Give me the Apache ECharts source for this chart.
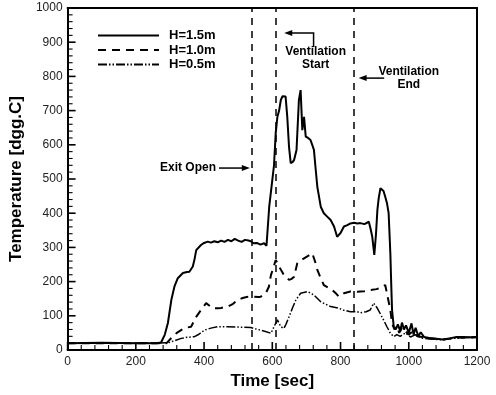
<!DOCTYPE html>
<html><head><meta charset="utf-8">
<script src="https://cdn.jsdelivr.net/npm/echarts@6/dist/echarts.min.js"></script>
<style>html,body{margin:0;padding:0;background:#fff}#c{width:496px;height:395px}</style>
</head><body><div id="c"></div>
<script>
// H=1.5m  [time, temperature]
const h15 = [[0,20],[100,21],[200,20],[260,20],[274,22],[285,45],[294,79],[304,146],[313,185],[323,210],[338,225],[350,228],[357,229],[367,244],[372,265],[377,292],[391,307],[400,313],[411,317],[420,314],[430,318],[440,315],[450,320],[460,316],[470,322],[480,318],[490,325],[500,320],[510,316],[520,322],[530,320],[537,318],[545,312],[555,313],[565,308],[576,312],[583,305],[586,302],[591,419],[600,497],[605,540],[610,634],[615,682],[620,700],[625,731],[630,742],[634,746],[639,741],[644,680],[649,594],[654,546],[660,550],[664,556],[671,585],[678,731],[683,760],[688,643],[693,682],[698,624],[705,620],[712,614],[717,600],[722,585],[727,530],[732,477],[742,419],[751,400],[761,390],[771,380],[781,361],[790,331],[795,328],[800,342],[810,361],[820,365],[829,370],[840,372],[849,370],[858,371],[870,368],[883,375],[889,350],[893,331],[899,278],[904,340],[908,409],[912,445],[917,473],[922,478],[926,465],[931,448],[936,430],[941,400],[944,330],[946,283],[949,180],[951,117],[956,68],[962,60],[968,75],[975,55],[980,80],[986,60],[992,72],[1000,50],[1008,78],[1014,45],[1020,65],[1028,40],[1035,52],[1045,38],[1060,35],[1080,33],[1100,31],[1120,34],[1140,38],[1160,38],[1180,37],[1200,38]];
// H=1.0m
const h10 = [[0,20],[100,20],[200,20],[290,20],[304,35],[320,50],[342,64],[362,68],[377,97],[391,117],[406,137],[415,130],[425,122],[440,122],[450,123],[469,127],[485,135],[498,146],[513,152],[525,155],[537,156],[547,156],[560,155],[566,156],[581,166],[590,185],[596,219],[603,240],[610,263],[615,255],[620,244],[634,219],[649,205],[657,208],[664,214],[673,253],[683,262],[693,268],[705,275],[717,283],[725,260],[732,234],[742,210],[751,190],[765,182],[776,175],[787,165],[795,156],[810,166],[829,171],[849,170],[858,171],[870,172],[887,175],[905,178],[917,181],[931,190],[938,156],[946,117],[951,78],[958,60],[965,70],[972,50],[980,65],[990,55],[1000,45],[1012,55],[1025,40],[1040,38],[1060,34],[1100,31],[1140,36],[1200,37]];
// H=0.5m
const h05 = [[0,20],[100,20],[200,20],[294,21],[310,26],[333,34],[350,37],[372,39],[385,46],[401,58],[420,64],[440,68],[469,68],[500,67],[537,66],[550,62],[566,58],[580,54],[596,49],[605,68],[615,88],[625,68],[634,63],[640,75],[649,97],[660,125],[669,146],[683,166],[703,171],[722,161],[742,141],[756,134],[771,127],[795,122],[810,116],[829,112],[849,112],[858,109],[875,112],[887,117],[897,137],[908,122],[917,105],[926,88],[936,68],[946,49],[956,39],[965,45],[975,40],[990,50],[1005,38],[1020,45],[1035,35],[1060,32],[1100,30],[1140,35],[1200,37]];
const seriesNames = ['H=1.5m','H=1.0m','H=0.5m'];
const eventTimes = [540, 610, 840];

const FONT = 'Liberation Sans, Arial, sans-serif';
const X = {min:0, max:1200, interval:200};
const Y = {min:0, max:1000, interval:100};
const MINOR_SPLIT = 5;

const xTickVals = [], yTickVals = [];
for (let i = 0; X.min + i*X.interval/MINOR_SPLIT <= X.max + 1e-9; i++) xTickVals.push([X.min + i*X.interval/MINOR_SPLIT, Y.min, i % MINOR_SPLIT === 0 ? 1 : 0]);
for (let i = 0; Y.min + i*Y.interval/MINOR_SPLIT <= Y.max + 1e-9; i++) yTickVals.push([X.min, Y.min + i*Y.interval/MINOR_SPLIT, i % MINOR_SPLIT === 0 ? 1 : 0]);

const chart = echarts.init(document.getElementById('c'), null, {renderer:'canvas'});
function mainAxis(extra){
  return Object.assign({
    type:'value',
    axisLine:{show:true, onZero:false, lineStyle:{color:'#000', width:2}},
    axisTick:{show:false}, minorTick:{show:false}, splitLine:{show:false},
    nameLocation:'middle',
    nameTextStyle:{color:'#000', fontFamily:FONT, fontSize:17, fontWeight:'bold'}
  }, extra);
}
function frameAxis(extra){
  return Object.assign({
    type:'value', show:true,
    axisLine:{show:true, onZero:false, lineStyle:{color:'#000', width:2}},
    axisLabel:{show:false}, splitLine:{show:false}, axisTick:{show:false}, minorTick:{show:false}
  }, extra);
}
function tickRender(vertical){
  return function(params, api){
    const p = api.coord([api.value(0), api.value(1)]);
    const major = api.value(2) === 1, len = major ? 8 : 5, w = major ? 1.6 : 1.1;
    const shape = vertical ? {x:p[0]-w/2, y:p[1]-len, width:w, height:len} : {x:p[0], y:p[1]-w/2, width:len, height:w};
    return {type:'rect', shape:shape, style:{fill:'#000'}};
  };
}
chart.setOption({
  animation:false,
  backgroundColor:'#fff',
  grid:{left:66, right:19, top:8, bottom:45, show:false},
  legend:{
    data:seriesNames, orient:'vertical', left:92, top:24, itemWidth:61, itemHeight:14, itemGap:1.5,
    itemStyle:{opacity:0, borderWidth:0},
    textStyle:{color:'#000', fontFamily:FONT, fontSize:13, fontWeight:'bold', padding:[0,0,0,5]}
  },
  xAxis:[
    mainAxis(Object.assign({name:'Time [sec]', nameGap:20, position:'bottom',
      axisLabel:{color:'#222', fontFamily:FONT, fontSize:12, margin:6, formatter:v=>String(v)}}, X)),
    frameAxis({min:X.min, max:X.max, position:'top'})
  ],
  yAxis:[
    mainAxis(Object.assign({name:'Temperature [dgg.C]', nameGap:36, position:'left',
      axisLabel:{color:'#222', fontFamily:FONT, fontSize:12, margin:5, formatter:v=>String(v)}}, Y)),
    frameAxis({min:Y.min, max:Y.max, position:'right'})
  ],
  series:[
    {name:seriesNames[0], type:'line', data:h15, showSymbol:false, symbol:'none', lineStyle:{color:'#000', width:2}, itemStyle:{color:'#000'},
     markLine:{silent:true, symbol:'none', label:{show:false}, lineStyle:{color:'#000', width:1.5, type:[7,6]},
       data:eventTimes.map(t=>({xAxis:t}))}},
    {name:seriesNames[1], type:'line', data:h10, showSymbol:false, symbol:'none', lineStyle:{color:'#000', width:2, type:[8,6]}, itemStyle:{color:'#000'}},
    {name:seriesNames[2], type:'line', data:h05, showSymbol:false, symbol:'none', lineStyle:{color:'#000', width:1.5, type:[9,2,1.5,2,1.5,2]}, itemStyle:{color:'#000'}},
    {name:'xticks', type:'custom', silent:true, z:20, data:xTickVals, renderItem:tickRender(true)},
    {name:'yticks', type:'custom', silent:true, z:20, data:yTickVals, renderItem:tickRender(false)}
  ]
});

function px(x,y){return chart.convertToPixel({xAxisIndex:0,yAxisIndex:0},[x,y]);}
const g = [];
const txt = {fill:'#000', font:'bold 12px Liberation Sans, Arial, sans-serif'};
function arrowHead(tip, dir){
  return {type:'polygon', shape:{points:[[tip[0],tip[1]],[tip[0]-dir*8,tip[1]-3],[tip[0]-dir*8,tip[1]+3]]}, style:{fill:'#000'}};
}
const eo = px(435,532), eoTip = px(eventTimes[0],532);
g.push({type:'text', x:eo[0], y:eo[1], style:Object.assign({text:'Exit Open', align:'right', verticalAlign:'middle'}, txt)});
g.push({type:'line', shape:{x1:eo[0]+3, y1:eo[1], x2:eoTip[0]-6, y2:eo[1]}, style:{stroke:'#000', lineWidth:1.5}});
g.push(arrowHead([eoTip[0]-2, eo[1]], 1));
const vs1 = px(721,886), vs2 = px(721,927), vsTip = px(eventTimes[1]+25,927);
g.push({type:'polyline', shape:{points:[[vs1[0],vs1[1]],[vs2[0],vs2[1]],[vsTip[0]+6,vs2[1]]]}, style:{stroke:'#000', lineWidth:1.5, fill:null}});
g.push(arrowHead([vsTip[0], vs2[1]], -1));
const vst = px(727,854);
g.push({type:'text', x:vst[0], y:vst[1], style:Object.assign({text:'Ventilation\nStart', align:'center', verticalAlign:'middle', lineHeight:13}, txt)});
const ve1 = px(928,795), veTip = px(eventTimes[2]+13,795);
g.push({type:'line', shape:{x1:ve1[0], y1:ve1[1], x2:veTip[0]+6, y2:ve1[1]}, style:{stroke:'#000', lineWidth:1.5}});
g.push(arrowHead([veTip[0], ve1[1]], -1));
const vet = px(1000,796);
g.push({type:'text', x:vet[0], y:vet[1], style:Object.assign({text:'Ventilation\nEnd', align:'center', verticalAlign:'middle', lineHeight:13}, txt)});
chart.setOption({graphic:g});
</script></body></html>
